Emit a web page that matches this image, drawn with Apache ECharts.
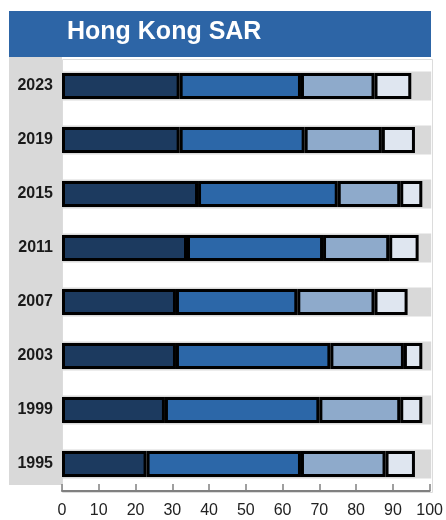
<!DOCTYPE html>
<html>
<head>
<meta charset="utf-8">
<script src="https://cdn.jsdelivr.net/npm/echarts@6/dist/echarts.min.js"></script>
<style>
  html, body { margin: 0; padding: 0; background: #fff; }
  #chart { width: 446px; height: 520px; }
</style>
</head>
<body>
<div id="chart"></div>
<script>
// years, top to bottom
const years = ['2023', '2019', '2015', '2011', '2007', '2003', '1999', '1995']

// segment shares
const seg1 = [32, 32, 37, 34, 31, 31, 28, 23]
const seg2 = [33, 34, 38, 37, 33, 42, 42, 42]
const seg3 = [20, 21, 17, 18, 21, 20, 22, 23]
const seg4 = [10, 9, 6, 8, 9, 5, 6, 8]

const xTicks = [0, 10, 20, 30, 40, 50, 60, 70, 80, 90, 100]

const colors = ['#1c3a5f', '#2c67a8', '#8eaacb', '#dfe6f0']
const font = '"Liberation Sans", Arial, sans-serif'

const chart = echarts.init(document.getElementById('chart'))

const makeSeries = (data, i) => ({
  type: 'bar',
  stack: 'total',
  data,
  barWidth: 26,
  showBackground: i === 0,
  backgroundStyle: { color: '#d9d9d9', borderColor: '#d9d9d9', borderWidth: 3 },
  itemStyle: { color: colors[i], borderColor: '#000', borderWidth: 3 },
  emphasis: { disabled: true },
})

chart.setOption({
  animation: false,
  textStyle: { fontFamily: font },
  grid: { left: 62, right: 15, top: 59, bottom: 29 },
  graphic: [
    // title bar
    { type: 'rect', left: 9, top: 11, shape: { width: 422, height: 46 }, style: { fill: '#2d65a6' }, z: 100 },
    {
      type: 'text', left: 67, top: 20, z: 101,
      style: { text: 'Hong Kong SAR', fill: '#fff', font: 'bold 25px ' + font },
    },
    // left label panel
    { type: 'rect', left: 9, top: 57, shape: { width: 53, height: 428 }, style: { fill: '#d9d9d9' }, z: -1 },
    // plot frame
    {
      type: 'rect', left: 62, top: 59, z: -1,
      shape: { width: 370, height: 433 },
      style: { fill: '#fff', stroke: '#dcdcdc', lineWidth: 1 },
    },
  ],
  xAxis: {
    type: 'value',
    min: xTicks[0],
    max: xTicks[xTicks.length - 1],
    interval: 10,
    axisLine: { show: true, lineStyle: { color: '#808080', width: 2 } },
    axisTick: { show: true, inside: true, length: 7, lineStyle: { color: '#808080', width: 1.5 } },
    axisLabel: { color: '#222', fontSize: 16, margin: 12, fontFamily: font },
    splitLine: { show: false },
  },
  yAxis: {
    type: 'category',
    data: years,
    inverse: true,
    axisLine: { show: false },
    axisTick: { show: false },
    axisLabel: { color: '#1a1a1a', fontSize: 16, fontWeight: 'bold', margin: 9, fontFamily: font },
  },
  series: [seg1, seg2, seg3, seg4].map(makeSeries),
})
</script>
</body>
</html>
